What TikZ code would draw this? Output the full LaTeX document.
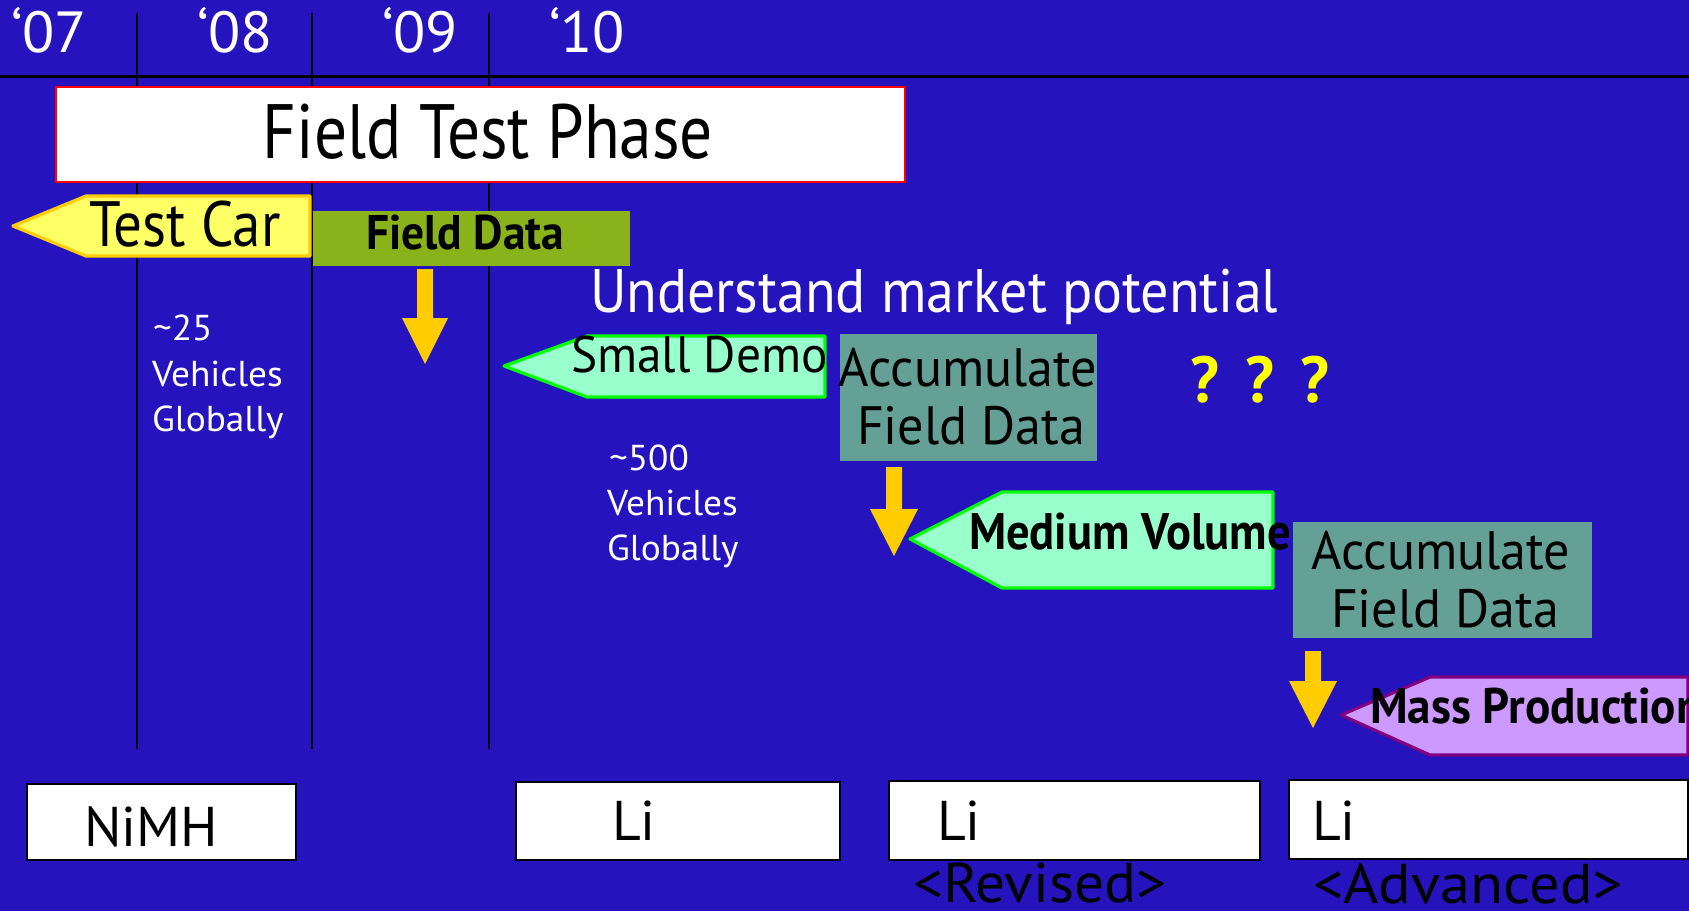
\documentclass[tikz,border=0pt]{standalone}
\usepackage{fontspec}
\usepackage{graphicx}
\setmainfont{PT Sans}[FakeStretch=0.85]
\definecolor{bgblue}{RGB}{37,20,189}
\definecolor{olive}{RGB}{138,178,26}
\definecolor{teal}{RGB}{100,160,150}
\definecolor{mint}{RGB}{153,255,204}
\definecolor{lime}{RGB}{0,255,0}
\definecolor{lilac}{RGB}{204,153,255}
\definecolor{plum}{RGB}{128,0,128}
\definecolor{lemon}{RGB}{255,255,102}
\definecolor{amber}{RGB}{255,204,0}
\definecolor{qyellow}{RGB}{255,255,0}
\newcommand\fsz[1]{\fontsize{#1}{#1}\selectfont}
\newcommand\xs[2]{\scalebox{#1}[1]{#2}}
\tikzset{
  txt/.style={inner sep=0pt, outer sep=0pt, anchor=base west},
  ctxt/.style={inner sep=0pt, outer sep=0pt, anchor=base},
  gridline/.style={black, line width=1pt},
  whitebox/.style={fill=white, draw=black, line width=1pt},
  downarrow/.style={fill=amber},
  pent/.style={line width=1.6pt, line join=round},
}
\begin{document}
\begin{tikzpicture}[x=0.5pt,y=-0.5pt]
\useasboundingbox (0,0) rectangle (1689,911);
\clip (0,0) rectangle (1689,911);
\fill[bgblue] (0,0) rectangle (1689,911);
% grid
\draw[black, line width=1.2pt] (0,76.5) -- (1689,76.5);
\draw[gridline] (137,13) -- (137,749);
\draw[gridline] (312,13) -- (312,749);
\draw[gridline] (489,13) -- (489,749);
% years
\node[txt, white, font=\fsz{29}] (y07) at (11,52) {\xs{1.2}{‘07}};
\node[txt, white, font=\fsz{29}] (y08) at (197,52) {\xs{1.2}{‘08}};
\node[txt, white, font=\fsz{29}] (y09) at (382,52) {\xs{1.2}{‘09}};
\node[txt, white, font=\fsz{29}] (y10) at (549,52) {\xs{1.2}{‘10}};
% field test phase
\draw[fill=white, draw=red, line width=1.2pt] (56,87) rectangle (905,182);
\node[ctxt, font=\fsz{38.5}] (ftp) at (488,158) {Field Test Phase};
% pentagons
\draw[pent, fill=lemon, draw=amber]
  (13,226) -- (86,196) -- (310,196) -- (310,256) -- (86,256) -- cycle;
\fill[olive] (313,211) rectangle (630,266);
\draw[pent, fill=mint, draw=lime]
  (504,366) -- (587,336) -- (825,336) -- (825,397) -- (587,397) -- cycle;
\fill[teal] (840,334) rectangle (1097,461);
\draw[pent, fill=mint, draw=lime]
  (910,539) -- (1002,492) -- (1273,492) -- (1273,588) -- (1002,588) -- cycle;
\fill[teal] (1293,522) rectangle (1592,638);
\draw[pent, fill=lilac, draw=plum]
  (1341,715) -- (1430,677) -- (1688,677) -- (1688,755) -- (1430,755) -- cycle;
% yellow down arrows
\fill[downarrow] (417,269) -- (433,269) -- (433,318) -- (448,318) -- (425,364) -- (402,318) -- (417,318) -- cycle;
\fill[downarrow] (886,467) -- (902,467) -- (902,509) -- (918,509) -- (894,556) -- (870,509) -- (886,509) -- cycle;
\fill[downarrow] (1305,651) -- (1321,651) -- (1321,681) -- (1337,681) -- (1313,728) -- (1289,681) -- (1305,681) -- cycle;
% texts
\node[txt, font=\fsz{32}] (testcar) at (89,246) {\xs{1.05}{Test Car}};
\node[txt, font=\bfseries\fsz{24.3}] (fielddata) at (366,249) {\xs{1.1}{Field Data}};
\node[txt, white, font=\fsz{30.7}] (understand) at (590,312) {\xs{1.074}{Understand market potential}};
\node[txt, white, font=\fsz{18}] (n25a) at (153,340) {\xs{1.22}{\textasciitilde25}};
\node[txt, white, font=\fsz{18}] (n25b) at (152,386) {\xs{1.22}{Vehicles}};
\node[txt, white, font=\fsz{18}] (n25c) at (152,431) {\xs{1.22}{Globally}};
\node[txt, font=\fsz{25.7}] (smalldemo) at (571,372) {\xs{1.13}{Small Demo}};
\node[ctxt, font=\fsz{27}] (acc1a) at (968,386) {\xs{1.135}{Accumulate}};
\node[ctxt, font=\fsz{27}] (acc1b) at (971,444) {\xs{1.135}{Field Data}};
\node[txt, white, font=\fsz{18}] (n500a) at (609,470) {\xs{1.22}{\textasciitilde500}};
\node[txt, white, font=\fsz{18}] (n500b) at (607,515) {\xs{1.22}{Vehicles}};
\node[txt, white, font=\fsz{18}] (n500c) at (607,560) {\xs{1.22}{Globally}};
\node[txt, qyellow, font=\bfseries\fsz{32.5}] (qqq) at (1177.5,402)
  {\makebox[27.5pt]{\xs{1.15}{?}}\makebox[27.5pt]{\xs{1.15}{?}}\makebox[27.5pt]{\xs{1.15}{?}}};
\node[txt, font=\bfseries\fsz{25.7}] (medium) at (969,549) {\xs{1.064}{Medium Volume}};
\node[ctxt, font=\fsz{27}] (acc2a) at (1441,569) {\xs{1.135}{Accumulate}};
\node[ctxt, font=\fsz{27}] (acc2b) at (1445,627) {\xs{1.135}{Field Data}};
\node[txt, font=\bfseries\fsz{25}] (mass) at (1370,723) {\xs{1.11}{Mass Production}};
% battery boxes
\draw[whitebox] (27,784) rectangle (296,860);
\draw[whitebox] (516,782) rectangle (840,860);
\draw[whitebox] (889,781) rectangle (1260,860);
\draw[whitebox] (1289,780) rectangle (1688,859);
\node[ctxt, font=\fsz{28}] (nimh) at (151,846) {\xs{1.17}{NiMH}};
\node[txt, font=\fsz{28}] (li1) at (612,840) {\xs{1.17}{Li}};
\node[txt, font=\fsz{28}] (li2) at (937,840) {\xs{1.17}{Li}};
\node[txt, font=\fsz{28}] (li3) at (1312,840) {\xs{1.17}{Li}};
\node[txt, font=\fsz{28}] (revised) at (913,902) {\xs{1.25}{<Revised>}};
\node[txt, font=\fsz{28}] (advanced) at (1313,903) {\xs{1.27}{<Advanced>}};
\end{tikzpicture}
\end{document}
